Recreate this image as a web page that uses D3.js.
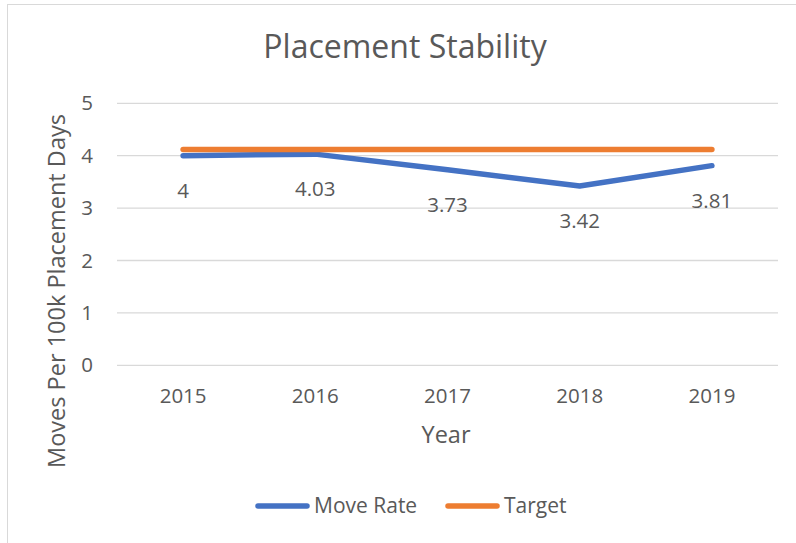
<!DOCTYPE html>
<html><head><meta charset="utf-8">
<script src="https://cdn.jsdelivr.net/npm/d3@7"></script>
<style>html,body{margin:0;padding:0;background:#fff;}svg{display:block;}</style>
</head><body>
<script>
const categories = ["2015","2016","2017","2018","2019"];
const moveRate = [4, 4.03, 3.73, 3.42, 3.81];
const target = [4.12, 4.12, 4.12, 4.12, 4.12];
const yTicks = [0,1,2,3,4,5];
const seriesNames = ["Move Rate","Target"];
const colors = ["#4472c4","#ed7d31"];

const W = 796, H = 543;
const font = "'Open Sans', sans-serif";
const txt = "#595959";
const svg = d3.select("body").append("svg").attr("width", W).attr("height", H);

svg.append("rect").attr("x",7.5).attr("y",4.5).attr("width",W+10).attr("height",H+10)
  .attr("fill","#fff").attr("stroke","#d9d9d9").attr("stroke-width",1);

const x = d3.scaleBand().domain(categories).range([117, 778]);
const y = d3.scaleLinear().domain([0,5]).range([365.3, 103.3]);

// gridlines
svg.append("g").selectAll("line").data(yTicks).join("line")
  .attr("x1",117).attr("x2",778).attr("y1",d=>y(d)).attr("y2",d=>y(d))
  .attr("stroke","#d9d9d9").attr("stroke-width",1.3);

// y axis labels
const yAxis = d3.axisLeft(y).tickValues(yTicks).tickFormat(d3.format("d")).tickSize(0).tickPadding(0);
const gy = svg.append("g").attr("transform","translate(93,0)").call(yAxis);
gy.select(".domain").remove();
gy.selectAll("text").attr("font-family",font).attr("font-size",20.5).attr("fill",txt);

// x axis labels
const xAxis = d3.axisBottom(x).tickSize(0).tickPadding(0);
const gx = svg.append("g").attr("transform","translate(0,403)").call(xAxis);
gx.select(".domain").remove();
gx.selectAll("text").attr("font-family",font).attr("font-size",20.5).attr("fill",txt).attr("y",0).attr("dy",0);

const cx = d => x(d) + x.bandwidth()/2;
const line = d3.line().x((d,i)=>cx(categories[i])).y(d=>y(d));

[moveRate, target].forEach((s,k)=>{
  svg.append("path").datum(s).attr("d",line).attr("fill","none")
    .attr("stroke",colors[k]).attr("stroke-width",5.5)
    .attr("stroke-linecap","round").attr("stroke-linejoin","round");
});

// data labels
svg.append("g").selectAll("text").data(moveRate).join("text")
  .attr("x",(d,i)=>cx(categories[i])).attr("y",d=>y(d)+42)
  .attr("text-anchor","middle")
  .attr("font-family",font).attr("font-size",20.5).attr("fill",txt)
  .text(d=>d);

// title
svg.append("text").attr("x",405).attr("y",58).attr("text-anchor","middle")
  .attr("font-family",font).attr("font-size",32).attr("fill",txt).text("Placement Stability");

// axis titles
svg.append("text").attr("x",446).attr("y",443).attr("text-anchor","middle")
  .attr("font-family",font).attr("font-size",23.5).attr("fill",txt).text("Year");
svg.append("text").attr("transform","translate(65,291) rotate(-90)").attr("text-anchor","middle")
  .attr("font-family",font).attr("font-size",23.5).attr("fill",txt).text("Moves Per 100k Placement Days");

// legend
const lx = [255, 445];
seriesNames.forEach((n,k)=>{
  svg.append("line").attr("x1",lx[k]+3).attr("x2",lx[k]+52).attr("y1",506).attr("y2",506)
    .attr("stroke",colors[k]).attr("stroke-width",5.5).attr("stroke-linecap","round");
  svg.append("text").attr("x",lx[k]+59).attr("y",513)
    .attr("font-family",font).attr("font-size",21).attr("fill",txt).text(n);
});
</script>
</body></html>
